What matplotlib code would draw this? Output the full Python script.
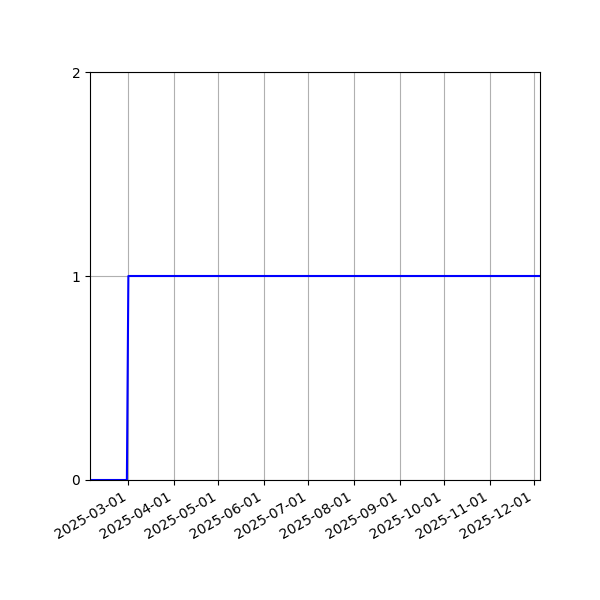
import matplotlib
matplotlib.use("Agg")
import matplotlib.pyplot as plt
import matplotlib.dates as mdates
import numpy as np

# data
dates = np.array(["2025-02-03", "2025-02-28", "2025-03-01", "2025-12-05"], dtype="datetime64[D]")
values = [0, 0, 1, 1]
yticks = [0, 1, 2]

fig, ax = plt.subplots(figsize=(6, 6), dpi=100)
ax.plot(dates, values, color="blue", linewidth=1.5)

ax.set_xlim(dates[0], dates[-1])
ax.set_ylim(0, 2)
ax.set_yticks(yticks)
ax.xaxis.set_major_locator(mdates.MonthLocator())
ax.xaxis.set_major_formatter(mdates.DateFormatter("%Y-%m-%d"))
ax.grid(True)

fig.autofmt_xdate()
fig.subplots_adjust(left=0.15, right=0.9, top=0.88, bottom=0.2)
fig.savefig("out.png", dpi=100)
